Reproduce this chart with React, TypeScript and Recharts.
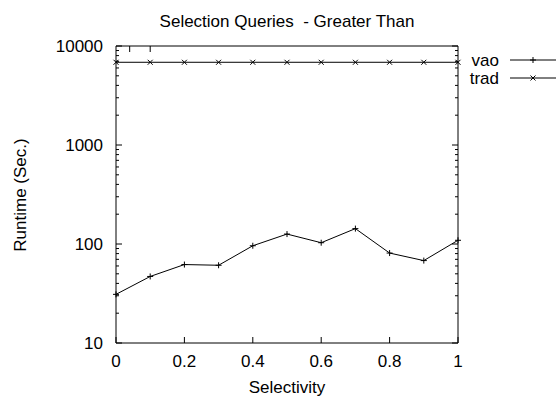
import { LineChart, Line, XAxis, YAxis, Legend } from 'recharts';

// (log scale y)
const selectivity = [0, 0.1, 0.2, 0.3, 0.4, 0.5, 0.6, 0.7, 0.8, 0.9, 1];
const vao = [31, 47, 62, 61, 96, 126, 103, 143, 81, 68, 109];
const trad = [6850, 6850, 6850, 6850, 6850, 6850, 6850, 6850, 6850, 6850, 6850];
const xTicks = [0, 0.2, 0.4, 0.6, 0.8, 1];
const yTicks = [10, 20, 30, 40, 50, 60, 70, 80, 90, 100, 200, 300, 400, 500, 600, 700, 800, 900, 1000, 2000, 3000, 4000, 5000, 6000, 7000, 8000, 9000, 10000];
const seriesNames = ['vao', 'trad'];

const data = selectivity.map((s, i) => ({ s, vao: vao[i], trad: trad[i] }));

const W = 556;
const H = 396;
const LEFT = 116;
const RIGHT = 458;
const TOP = 46;
const BOTTOM = 343;
const FONT = '"Liberation Sans", Arial, sans-serif';
const FS = 17;

const isMajor = (v: number) => Math.abs(Math.log10(v) - Math.round(Math.log10(v))) < 1e-9;

const LeftTick = ({ y, payload }: any) => {
  const major = isMajor(payload.value);
  return (
    <g>
      <line x1={LEFT} x2={LEFT + (major ? 6 : 3)} y1={y} y2={y} stroke="#000" />
      {major && (
        <text x={LEFT - 13} y={y} textAnchor="end" dominantBaseline="central" fontSize={FS} fontFamily={FONT} fill="#000">
          {payload.value}
        </text>
      )}
    </g>
  );
};

const RightTick = ({ y, payload }: any) => {
  const major = isMajor(payload.value);
  return <line x1={RIGHT} x2={RIGHT - (major ? 6 : 3)} y1={y} y2={y} stroke="#000" />;
};

const BottomTick = ({ x, payload }: any) => (
  <g>
    <line x1={x} x2={x} y1={BOTTOM} y2={BOTTOM - 6} stroke="#000" />
    <text x={x} y={BOTTOM + 18} textAnchor="middle" dominantBaseline="central" fontSize={FS} fontFamily={FONT} fill="#000">
      {payload.value}
    </text>
  </g>
);

const TopTick = ({ x }: any) => <line x1={x} x2={x} y1={TOP} y2={TOP + 6} stroke="#000" />;

const PlusDot = ({ cx, cy }: any) => (
  <path d={`M${cx - 3},${cy}H${cx + 3}M${cx},${cy - 3}V${cy + 3}`} stroke="#000" strokeWidth={1} />
);
const CrossDot = ({ cx, cy }: any) => (
  <path d={`M${cx - 2.5},${cy - 2.5}L${cx + 2.5},${cy + 2.5}M${cx - 2.5},${cy + 2.5}L${cx + 2.5},${cy - 2.5}`} stroke="#000" strokeWidth={1} />
);

const LegendBox = () => (
  <svg width={96} height={38} style={{ display: 'block' }}>
    {seriesNames.map((name, i) => {
      const y = 8 + i * 18;
      return (
        <g key={name}>
          <text x={39} y={y} textAnchor="end" dominantBaseline="central" fontSize={FS} fontFamily={FONT} fill="#000">{name}</text>
          <line x1={50} x2={96} y1={y} y2={y} stroke="#000" />
          {i === 0 ? <PlusDot cx={73} cy={y} /> : <CrossDot cx={73} cy={y} />}
        </g>
      );
    })}
  </svg>
);

export default function App() {
  return (
    <div style={{ position: 'absolute', top: 0, left: 0, width: W, height: H, background: '#fff' }}>
      <LineChart width={W} height={H} data={data} margin={{ top: 0, right: 0, bottom: 0, left: 0 }}>
        <XAxis
          dataKey="s"
          type="number"
          domain={[0, 1]}
          ticks={xTicks}
          height={H - BOTTOM}
          tick={<BottomTick />}
          tickLine={false}
          axisLine={{ stroke: '#000' }}
          label={{
            content: () => (
              <text x={(LEFT + RIGHT) / 2} y={387} textAnchor="middle" dominantBaseline="central" fontSize={FS} fontFamily={FONT} fill="#000">
                Selectivity
              </text>
            ),
          }}
        />
        <XAxis
          xAxisId="top"
          orientation="top"
          type="number"
          domain={[0, 1]}
          ticks={xTicks}
          height={TOP}
          tick={<TopTick />}
          tickLine={false}
          axisLine={{ stroke: '#000' }}
          label={{
            content: () => (
              <text x={(LEFT + RIGHT) / 2} y={21} textAnchor="middle" dominantBaseline="central" fontSize={FS} fontFamily={FONT} fill="#000" style={{ whiteSpace: 'pre' }}>
                {'Selection Queries  - Greater Than'}
              </text>
            ),
          }}
        />
        <YAxis
          scale="log"
          domain={[10, 10000]}
          ticks={yTicks}
          interval={0}
          width={LEFT}
          tick={<LeftTick />}
          tickLine={false}
          axisLine={{ stroke: '#000' }}
          allowDataOverflow
          label={{
            content: () => (
              <text x={20} y={195} transform="rotate(-90 20 195)" textAnchor="middle" dominantBaseline="central" fontSize={FS} fontFamily={FONT} fill="#000">
                Runtime (Sec.)
              </text>
            ),
          }}
        />
        <YAxis
          yAxisId="right"
          orientation="right"
          scale="log"
          domain={[10, 10000]}
          ticks={yTicks}
          interval={0}
          width={W - RIGHT}
          tick={<RightTick />}
          tickLine={false}
          axisLine={{ stroke: '#000' }}
          allowDataOverflow
        />
        <Legend
          layout="vertical"
          align="center"
          verticalAlign="middle"
          content={() => <LegendBox />}
          wrapperStyle={{ position: 'absolute', left: 460, top: 52, width: 96 }}
        />
        <Line dataKey="vao" name="vao" stroke="#000" strokeWidth={1} dot={<PlusDot />} isAnimationActive={false} />
        <Line dataKey="trad" name="trad" stroke="#000" strokeWidth={1} dot={<CrossDot />} isAnimationActive={false} />
      </LineChart>
    </div>
  );
}
